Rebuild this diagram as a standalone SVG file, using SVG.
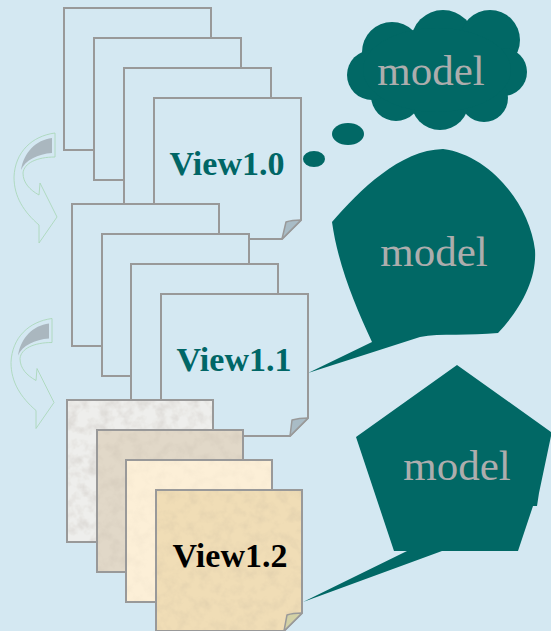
<svg xmlns="http://www.w3.org/2000/svg" width="551" height="631" viewBox="0 0 551 631">
<style>
.pg{fill:#d4e8f2;stroke:#999;stroke-width:2}
.pe{fill:none;stroke:#999;stroke-width:2}
.callout{fill:#016865}
.mt{font-family:"Liberation Serif","Times New Roman",serif;font-size:43px;fill:#adadad;text-anchor:middle}
.vt{font-family:"Liberation Serif","Times New Roman",serif;font-size:34px;font-weight:bold;text-anchor:middle}
.curl{fill:#a9bcc6;stroke:#999;stroke-width:1.5;stroke-linejoin:round}
.arr{fill:none;stroke:#a6d6b4;stroke-width:0.8}
.arrg{fill:#aab7bf}
</style>
<defs>
<filter id="grain" x="0" y="0" width="100%" height="100%">
<feTurbulence type="fractalNoise" baseFrequency="0.09" numOctaves="3" seed="7" result="n"/>
<feColorMatrix in="n" type="matrix" values="0 0 0 0 0.35  0 0 0 0 0.3  0 0 0 0 0.25  1.1 0 0 0 -0.45" result="c"/>
<feComposite in="c" in2="SourceAlpha" operator="in"/>
</filter>
<g id="arrow">
<path class="arr" d="M55,133 C32,136 15,152 14,177 C14,197 24,212 39,225 L39,243 L57,217 L40,183 L39,195 C30,190 23,183 23,173 C24,163 37,157 55,157 Z"/>
<path class="arrg" d="M52,138 L52,153 C38,154 25,160 21,170 C24,152 36,140 52,138 Z"/>
</g>
</defs>
<rect width="551" height="631" fill="#d4e8f2"/>

<g id="arrows">
<use href="#arrow"/>
<use href="#arrow" transform="translate(-3,185.5)"/>
</g>

<g id="callout-cloud">
<g class="callout">
<circle cx="392" cy="52" r="30"/>
<circle cx="443" cy="42" r="32"/>
<circle cx="490" cy="40" r="30"/>
<circle cx="503" cy="72" r="24"/>
<circle cx="484" cy="98" r="24"/>
<circle cx="440" cy="101" r="29"/>
<circle cx="396" cy="96" r="25"/>
<circle cx="372" cy="75" r="25"/>
<ellipse cx="437" cy="70" rx="74" ry="42"/>
<ellipse cx="348" cy="134" rx="16" ry="11"/>
<ellipse cx="314" cy="159" rx="11" ry="8"/>
</g>
<text class="mt" x="431" y="85">model</text>
</g>

<g id="callout-blob">
<path class="callout" d="M443,149 C490,155 530,205 535,250 C537,280 520,310 498,333 C470,336 440,333 420,337 L308,373 L372,342 C355,305 338,265 332,222 C360,190 400,150 443,149 Z"/>
<text class="mt" x="434" y="266">model</text>
</g>

<g id="callout-pentagon">
<path class="callout" d="M457,365 L551,432 L551,436 L539,493 L537,506 L533,506 L518,551 L442,551 L303,602 L407,551 L394,551 L356,437 Z"/>
<text class="mt" x="457" y="480">model</text>
</g>

<g id="stack-view1-0">
<rect class="pg" x="64" y="8" width="147" height="142"/>
<rect class="pg" x="94" y="38" width="147" height="142"/>
<rect class="pg" x="124" y="68" width="147" height="142"/>
<g id="view1-0">
<path class="pg" d="M154,98 H301 V220 L282,239 H154 Z"/>
<path class="curl" d="M301,220 Q292,220 286,222 L282,239 Z"/>
<text class="vt" x="227" y="175" fill="#006666">View1.0</text>
</g>
</g>

<g id="stack-view1-1">
<rect class="pg" x="72" y="204" width="147" height="142"/>
<rect class="pg" x="102" y="234" width="147" height="142"/>
<rect class="pg" x="131" y="264" width="147" height="142"/>
<g id="view1-1">
<path class="pg" d="M161,294 H308 V418 L290,436 H161 Z"/>
<path class="curl" d="M308,418 Q299,418 292,420 L290,436 Z"/>
<text class="vt" x="234" y="371" fill="#006666">View1.1</text>
</g>
</g>

<g id="stack-view1-2">
<g>
<rect x="67" y="400" width="146" height="142" fill="#eeeeec"/>
<rect x="67" y="400" width="146" height="142" fill="#000" filter="url(#grain)" opacity="0.45"/>
<rect class="pe" x="67" y="400" width="146" height="142"/>
</g>
<g>
<rect x="97" y="430" width="146" height="142" fill="#e1d8c8"/>
<rect x="97" y="430" width="146" height="142" fill="#000" filter="url(#grain)" opacity="0.25"/>
<rect class="pe" x="97" y="430" width="146" height="142"/>
</g>
<g>
<rect x="126" y="460" width="146" height="142" fill="#fcefd7"/>
<rect x="126" y="460" width="146" height="142" fill="#000" filter="url(#grain)" opacity="0.12"/>
<rect class="pe" x="126" y="460" width="146" height="142"/>
</g>
<g id="view1-2">
<path d="M156,490 H302 V613 L284,631 H156 Z" fill="#f0ddb6"/>
<path d="M156,490 H302 V613 L284,631 H156 Z" fill="#000" filter="url(#grain)" opacity="0.25"/>
<path class="pe" d="M156,490 H302 V613 L284,631 H156 Z"/>
<path class="curl" style="fill:#d3d1a6" d="M302,613 Q293,613 287,615 L284,631 Z"/>
<text class="vt" x="230" y="567" fill="#000">View1.2</text>
</g>
</g>
</svg>
